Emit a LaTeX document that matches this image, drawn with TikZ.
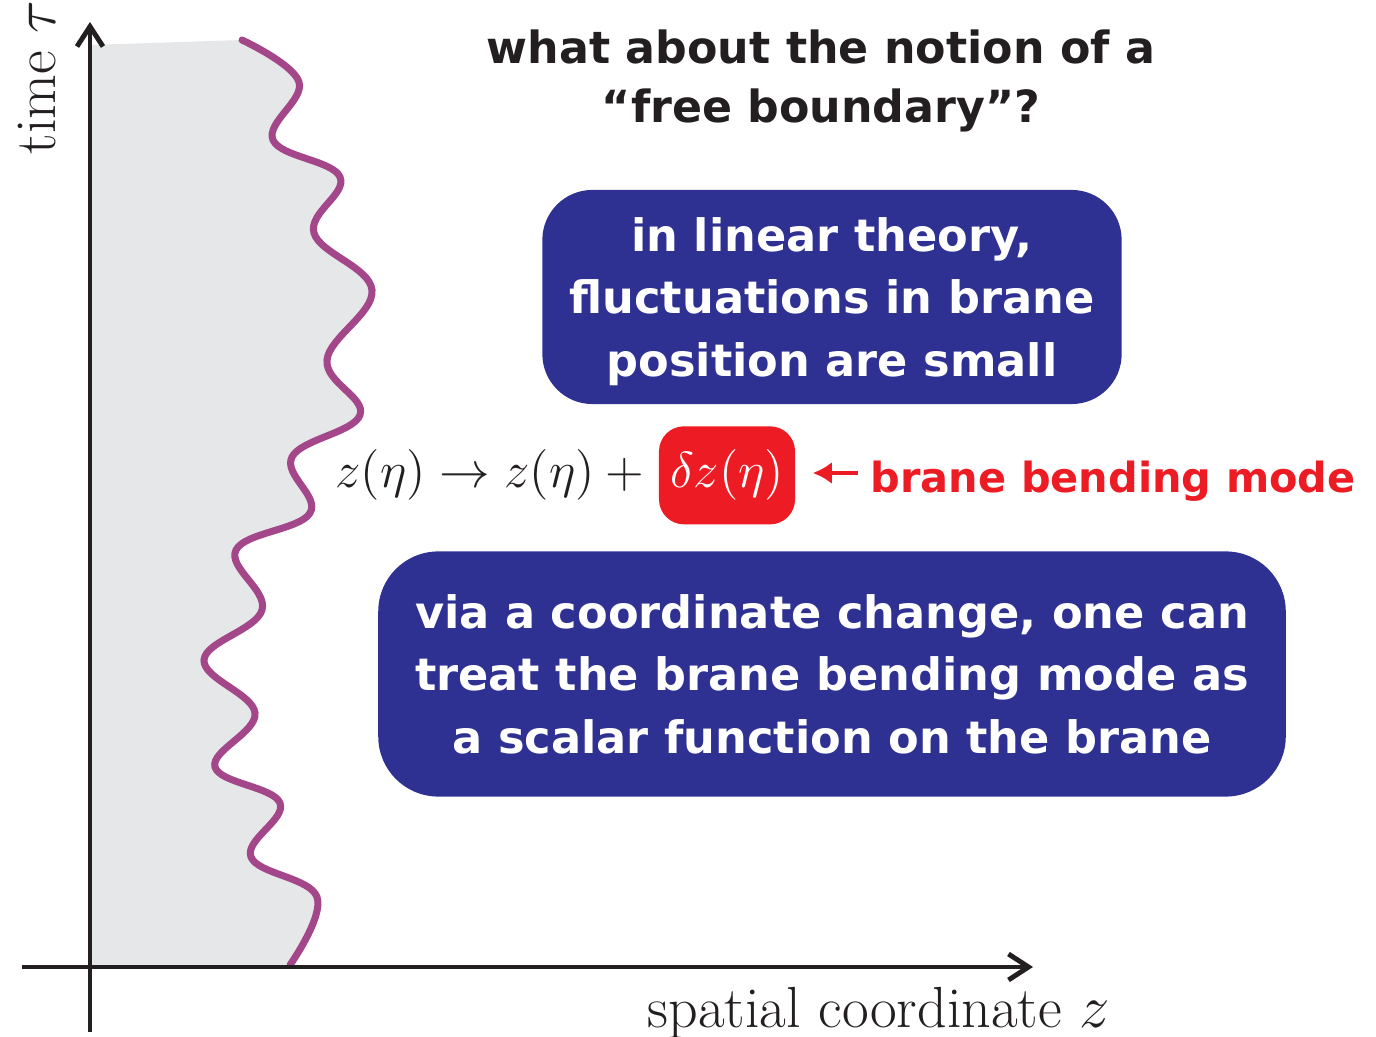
\documentclass[tikz,border=0pt]{standalone}
\usepackage{amsmath}
\usepackage{fontspec}
\newfontfamily\slidefont{DejaVu Sans}
\usepackage{tikz}
\usetikzlibrary{
    calc,
    arrows.meta
}
\definecolor{slideblue}{HTML}{2E3192}
\definecolor{slidered}{HTML}{ED1C24}
\definecolor{branepurple}{HTML}{A4478A}
\definecolor{bulkgray}{HTML}{E6E7E8}
\definecolor{inkblack}{HTML}{231F20}

\begin{document}
\begin{tikzpicture}[x=0.01cm,y=-0.01cm,
    axis/.style={line width=1.4pt,draw=inkblack,-{Straight Barb[length=2mm,width=2.6mm]}},
    brane/.style={line width=2pt,draw=branepurple,line cap=round},
    bluebox/.style={fill=slideblue,text=white,rounded corners=0.5cm,align=center,inner sep=0pt,
        text depth=0pt,font=\slidefont\bfseries\fontsize{12.7}{17.9}\selectfont},
    redbox/.style={fill=slidered,text=white,rounded corners=0.25cm,inner sep=0pt,
        minimum width=1.36cm,minimum height=0.98cm},
    serif/.style={inner sep=0pt,text=inkblack,font=\fontsize{16.5}{19}\selectfont}]
\useasboundingbox (0,0) rectangle (1376,1037);
%\draw [help lines,step=100] (0,0) grid (1376,1037);
\coordinate (O) at (90,967);
\coordinate (ytop) at (90,22);
\coordinate (ybot) at (90,1032);
\coordinate (xleft) at (22,967);
\coordinate (xright) at (1033,967);
% bulk region left of the brane
\fill [bulkgray] (90,967) -- (90,45) -- (242,40) -- plot [smooth,tension=0.65] coordinates {
    (242,40) (299,82) (273,140) (340,177) (314,233) (372,290) (327,360) (360,415)
    (292,457) (310,513) (236,550) (262,610) (204,660) (255,713) (215,767) (280,803)
    (251,857) (317,897) (290,965)} -- cycle;
\draw [brane] plot [smooth,tension=0.65] coordinates {
    (242,40) (299,82) (273,140) (340,177) (314,233) (372,290) (327,360) (360,415)
    (292,457) (310,513) (236,550) (262,610) (204,660) (255,713) (215,767) (280,803)
    (251,857) (317,897) (290,965)};
\draw [axis] (ybot) -- (ytop);
\draw [axis] (xleft) -- (xright);
\node [serif,rotate=90,anchor=base west] (tlabel) at (55,155) {time $\tau$};
\node [serif,anchor=base west] (zlabel) at (647,1027) {spatial coordinate $z$};

\node [inner sep=0pt,anchor=north,align=center,text=inkblack,
    font=\slidefont\bfseries\fontsize{12.6}{16.8}\selectfont] (title) at (821,29)
    {what about the notion of a\\“free boundary”?};
\node [bluebox,minimum width=5.79cm,minimum height=2.14cm] (linear) at (832,297)
    {in linear theory,\\fluctuations in brane\\position are small};
\node [serif,font=\fontsize{15.7}{19}\selectfont,anchor=base west] (zmap) at (335,488)
    {$z(\eta)\rightarrow z(\eta)\mskip\medmuskip+$};
\node [redbox,anchor=base west] (dz) at ([xshift=0.13cm]zmap.base east) {\fontsize{15.7}{19}\selectfont$\delta z(\eta)$};
\node [inner sep=0pt,anchor=base west,text=slidered,
    font=\slidefont\bfseries\fontsize{11.8}{14}\selectfont] (bbm) at (870,493) {brane bending mode};
\coordinate (tail) at ([shift={(-12,-20)}]bbm.base west);
\draw [line width=1.4pt,slidered,-{Latex[length=1.9mm,width=2.2mm]},shorten >=0.17cm] (tail) -- (tail -| dz.east);
\node [bluebox,rounded corners=0.6cm,minimum width=9.07cm,minimum height=2.45cm] (coord) at (832,674)
    {via a coordinate change, one can\\treat the brane bending mode as\\a scalar function on the brane};
\end{tikzpicture}
\end{document}
